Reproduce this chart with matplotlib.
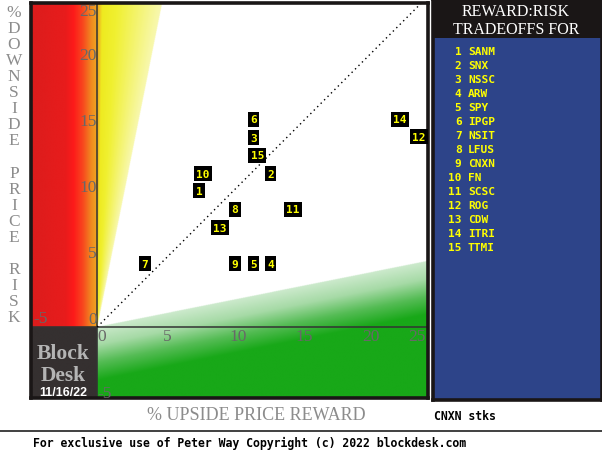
import numpy as np
import matplotlib
matplotlib.use("Agg")
import matplotlib.pyplot as plt
from matplotlib.colors import to_rgb
from matplotlib.lines import Line2D
from matplotlib.patches import Rectangle

# data
ids = list(range(1, 16))
tickers = ["SANM", "SNX", "NSSC", "ARW", "SPY", "IPGP", "NSIT", "LFUS",
           "CNXN", "FN", "SCSC", "ROG", "CDW", "ITRI", "TTMI"]
reward = [7.7, 13.1, 11.8, 13.1, 11.8, 11.8, 3.6, 10.4, 10.4, 8.0, 14.8, 24.3, 9.3, 22.9, 12.1]
risk = [10.3, 11.6, 14.3, 4.8, 4.8, 15.7, 4.8, 8.9, 4.8, 11.6, 8.9, 14.4, 7.5, 15.7, 13.0]
tick_vals = [0, 5, 10, 15, 20, 25]

W, H = 602, 460
XMIN, XMAX = -5, 25
YMIN, YMAX = -5.37, 24.5
SLOPE = 0.2   # edge of the yellow and green wedges

def fx(px):
    return px / W

def fy(py):
    return 1 - py / H

def ramp(t, pos, cols):
    rgb = np.array([to_rgb(c) for c in cols])
    out = np.zeros(t.shape + (3,))
    for k in range(3):
        out[..., k] = np.interp(t, pos, rgb[:, k])
    return out

fig = plt.figure(figsize=(W / 100, H / 100), dpi=100)
fig.patch.set_facecolor("white")

ax = fig.add_axes([fx(31), fy(399), fx(428) - fx(31), fy(4) - fy(399)])
ax.set_xlim(XMIN, XMAX)
ax.set_ylim(YMIN, YMAX)
ax.set_xticks([])
ax.set_yticks([])
for s in ax.spines.values():
    s.set_linewidth(2.6)
    s.set_color("#1a1616")

# background zones
gx = np.linspace(XMIN, XMAX, 900)
gy = np.linspace(YMIN, YMAX, 900)
X, Y = np.meshgrid(gx, gy)
img = np.ones(X.shape + (3,))

red = ramp(X, [-5, -2.4, -1.8, -1.1, -0.45, 0],
           ["#dc1c1c", "#e81c1c", "#fd1a1a", "#f8461e", "#f08a20", "#f0a820"])
m = (X < 0) & (Y >= 0)
img[m] = red[m]

img[(X < 0) & (Y < 0)] = to_rgb("#353030")

t = np.where(Y > 0, X / np.maximum(SLOPE * Y, 1e-6), 2)
yel = ramp(t, [0, 0.08, 0.3, 1.0], ["#f0a020", "#eeea20", "#f0f030", "#f8f8b0"])
m = (X >= 0) & (Y >= 0) & (t < 1)
img[m] = yel[m]

d = (SLOPE * X - Y) / 4.5
grn = ramp(d, [0, 0.3, 0.6, 0.9], ["#cdeacd", "#a6daa6", "#55bc55", "#18a818"])
m = (X >= 0) & (Y < SLOPE * X)
img[m] = grn[m]

ax.imshow(img, extent=[XMIN, XMAX, YMIN, YMAX], origin="lower",
          aspect="auto", interpolation="bilinear", zorder=0)

ax.axhline(0, color="#333333", lw=1.1, zorder=1)
ax.axvline(0, color="#333333", lw=1.1, zorder=1)
ax.plot([0, YMAX], [0, YMAX], color="black", lw=1.0,
        linestyle=(0, (1, 2.5)), zorder=2)

# tick labels placed the way the original does
tick_kw = dict(color="#686868", fontsize=12.5, family="Liberation Serif", zorder=3)
for v in tick_vals:
    if v < 25:
        ax.text(v, -0.05, str(v), ha="left", va="top", **tick_kw)
        ax.text(-0.05, v, str(v), ha="right", va="bottom", **tick_kw)
    else:
        ax.text(XMAX - 0.2, -0.05, str(v), ha="right", va="top", **tick_kw)
        ax.text(-0.05, YMAX, str(v), ha="right", va="top", **tick_kw)
ax.text(XMIN + 0.15, 0.05, "-5", ha="left", va="bottom", **tick_kw)
ax.text(0.05, -5.0, "-5", ha="left", va="center", **tick_kw)

# stock markers
for n, x, y in zip(ids, reward, risk):
    ax.text(x, y, str(n), ha="center", va="center", color="#ffff00",
            family="DejaVu Sans Mono", fontweight="bold", fontsize=8, zorder=4,
            bbox=dict(boxstyle="square,pad=0.22", fc="black", ec="none"))

# block desk logo
ax.text(-2.6, -2.0, "Block", ha="center", va="center", color="#b4b4b4",
        family="Liberation Serif", fontweight="bold", fontsize=15.5, zorder=3)
ax.text(-2.6, -3.65, "Desk", ha="center", va="center", color="#b4b4b4",
        family="Liberation Serif", fontweight="bold", fontsize=15.5, zorder=3)
ax.text(-2.55, -4.95, "11/16/22", ha="center", va="center", color="white",
        family="Liberation Sans", fontweight="bold", fontsize=9, zorder=3)

# vertical y label, one character per slot
chars = list("%") + list("DOWNSIDE") + [""] + list("PRICE") + [""] + list("RISK")
for i, c in enumerate(chars):
    fig.text(fx(14), fy(13 + 16.05 * i), c, ha="center", va="center",
             color="#8c8c8c", family="Liberation Serif", fontsize=12.5)

fig.text(fx(256), fy(416), "% UPSIDE PRICE REWARD", ha="center", va="center",
         color="#8c8c8c", family="Liberation Serif", fontsize=13)

# legend panel
lg = fig.add_axes([fx(433), fy(401), fx(602) - fx(433), fy(0) - fy(401)])
lg.set_xticks([])
lg.set_yticks([])
lg.set_facecolor("#2d4489")
for s in lg.spines.values():
    s.set_linewidth(2.6)
    s.set_color("#1a1616")
lg.add_patch(Rectangle((0, 1 - 39 / 401), 1, 39 / 401, transform=lg.transAxes,
                       fc="#1a1616", ec="none"))
fig.text(fx(516), fy(12), "REWARD:RISK", ha="center", va="center",
         color="white", family="Liberation Serif", fontsize=11.5)
fig.text(fx(516), fy(30), "TRADEOFFS FOR", ha="center", va="center",
         color="white", family="Liberation Serif", fontsize=11.5)
for i, (n, tk) in enumerate(zip(ids, tickers)):
    yy = fy(52 + 14 * i)
    fig.text(fx(461.5), yy, str(n), ha="right", va="center", color="#ffff00",
             family="DejaVu Sans Mono", fontweight="bold", fontsize=8)
    fig.text(fx(468), yy, tk, ha="left", va="center", color="#ffff00",
             family="DejaVu Sans Mono", fontweight="bold", fontsize=8)

fig.text(fx(434), fy(417), "CNXN stks", ha="left", va="center", color="black",
         family="DejaVu Sans Mono", fontweight="bold", fontsize=8.3)

fig.add_artist(Line2D([0, 1], [fy(432), fy(432)], color="#202020", lw=1.2))
fig.text(fx(33), fy(443),
         "For exclusive use of Peter Way Copyright (c) 2022 blockdesk.com",
         ha="left", va="center", color="black", family="DejaVu Sans Mono",
         fontweight="bold", fontsize=8.3)

fig.savefig("out.png", dpi=100)
